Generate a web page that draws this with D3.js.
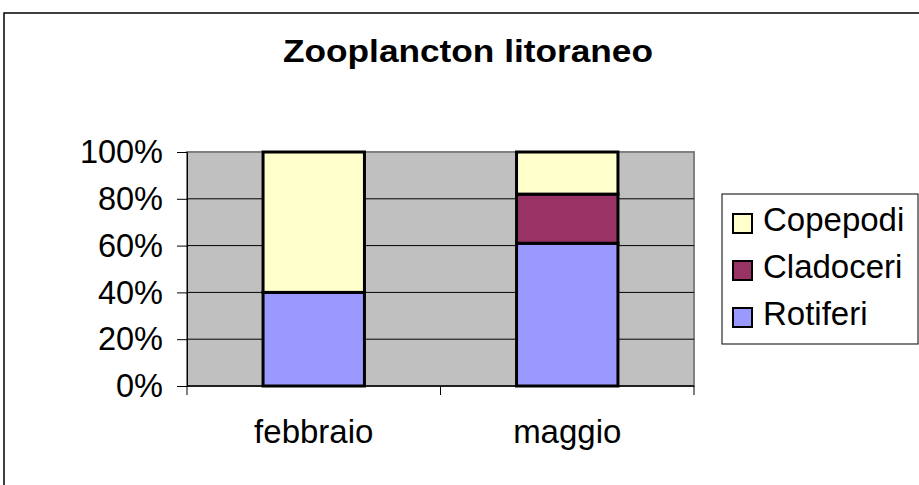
<!DOCTYPE html>
<html>
<head>
<meta charset="utf-8">
<script src="https://cdn.jsdelivr.net/npm/d3@7"></script>
<style>
  body { margin: 0; background: #fff; }
  text { font-family: "Liberation Sans", Arial, sans-serif; }
</style>
</head>
<body>
<svg id="chart"></svg>
<script>
// Data
const months = ["febbraio", "maggio"];
const seriesNames = ["Rotiferi", "Cladoceri", "Copepodi"];
const rotiferi = [40, 61];
const cladoceri = [0, 21];
const copepodi = [60, 18];
const yTicks = [0, 20, 40, 60, 80, 100];
const seriesColors = ["#9999FF", "#993366", "#FFFFCC"];

const width = 919, height = 485;
const plot = { left: 187, right: 694, top: 152, bottom: 386 };

const svg = d3.select("#chart").attr("width", width).attr("height", height);

// outer chart frame
svg.append("rect")
   .attr("x", 4).attr("y", 13)
   .attr("width", 916).attr("height", 474)
   .attr("fill", "#fff").attr("stroke", "#000").attr("stroke-width", 1.5);

// title
svg.append("text")
   .attr("x", 468).attr("y", 62)
   .attr("text-anchor", "middle")
   .attr("font-size", 31).attr("font-weight", "bold")
   .attr("textLength", 370).attr("lengthAdjust", "spacingAndGlyphs")
   .text("Zooplancton litoraneo");

// scales
const x = d3.scaleBand().domain(months)
            .range([plot.left, plot.right])
            .paddingInner(0.6).paddingOuter(0.3);
const y = d3.scaleLinear().domain([0, 100]).range([plot.bottom, plot.top]);

// plot area background
svg.append("rect")
   .attr("x", plot.left).attr("y", plot.top)
   .attr("width", plot.right - plot.left).attr("height", plot.bottom - plot.top)
   .attr("fill", "#C0C0C0").attr("stroke", "#808080").attr("stroke-width", 2);

// gridlines
svg.append("g").selectAll("line")
   .data(yTicks.filter(t => t > 0 && t < 100))
   .join("line")
   .attr("x1", plot.left).attr("x2", plot.right)
   .attr("y1", d => y(d)).attr("y2", d => y(d))
   .attr("stroke", "#000").attr("stroke-width", 1);

// stacked bars
const table = months.map((m, i) => ({ month: m, Rotiferi: rotiferi[i], Cladoceri: cladoceri[i], Copepodi: copepodi[i] }));
const stacked = d3.stack().keys(seriesNames)(table);

svg.append("g").selectAll("g")
   .data(stacked)
   .join("g")
   .attr("fill", (d, i) => seriesColors[i])
   .selectAll("rect")
   .data(d => d.filter(p => p[1] - p[0] > 0))
   .join("rect")
   .attr("x", d => x(d.data.month))
   .attr("y", d => y(d[1]))
   .attr("width", x.bandwidth())
   .attr("height", d => y(d[0]) - y(d[1]))
   .attr("stroke", "#000").attr("stroke-width", 3);

// y axis
const yAxis = d3.axisLeft(y).tickValues(yTicks).tickSize(10).tickPadding(14)
                .tickFormat(d => d + "%");
const gy = svg.append("g").attr("transform", `translate(${plot.left},0)`).call(yAxis);
gy.select(".domain").attr("stroke", "#000");
gy.selectAll(".tick line").attr("stroke", "#000");
gy.selectAll(".tick text")
  .attr("font-size", 32.5).attr("fill", "#000")
  .attr("font-family", "Liberation Sans, Arial, sans-serif")
  .attr("dy", "0.33em");

// x axis line and category boundary ticks
const step = x.step();
const bounds = months.map(m => x(m) - step * x.paddingInner() / 2).concat([plot.right]);
svg.append("line")
   .attr("x1", plot.left).attr("x2", plot.right)
   .attr("y1", plot.bottom).attr("y2", plot.bottom)
   .attr("stroke", "#000").attr("stroke-width", 1.5);
svg.append("g").selectAll("line")
   .data(bounds)
   .join("line")
   .attr("x1", d => d).attr("x2", d => d)
   .attr("y1", plot.bottom).attr("y2", plot.bottom + 9)
   .attr("stroke", "#000");

svg.append("g").selectAll("text")
   .data(months)
   .join("text")
   .attr("x", d => x(d) + x.bandwidth() / 2)
   .attr("y", 443)
   .attr("text-anchor", "middle")
   .attr("font-size", 33)
   .text(d => d);

// legend
const legend = svg.append("g");
legend.append("rect")
   .attr("x", 722).attr("y", 194).attr("width", 196).attr("height", 150)
   .attr("fill", "#fff").attr("stroke", "#000").attr("stroke-width", 1);
const legendOrder = seriesNames.slice().reverse();
const items = legend.selectAll("g")
   .data(legendOrder)
   .join("g")
   .attr("transform", (d, i) => `translate(0, ${223 + i * 47})`);
items.append("rect")
   .attr("x", 733).attr("y", -9).attr("width", 19).attr("height", 19)
   .attr("fill", d => seriesColors[seriesNames.indexOf(d)])
   .attr("stroke", "#000").attr("stroke-width", 2);
items.append("text")
   .attr("x", 763).attr("y", 8)
   .attr("font-size", 33)
   .text(d => d);
</script>
</body>
</html>
